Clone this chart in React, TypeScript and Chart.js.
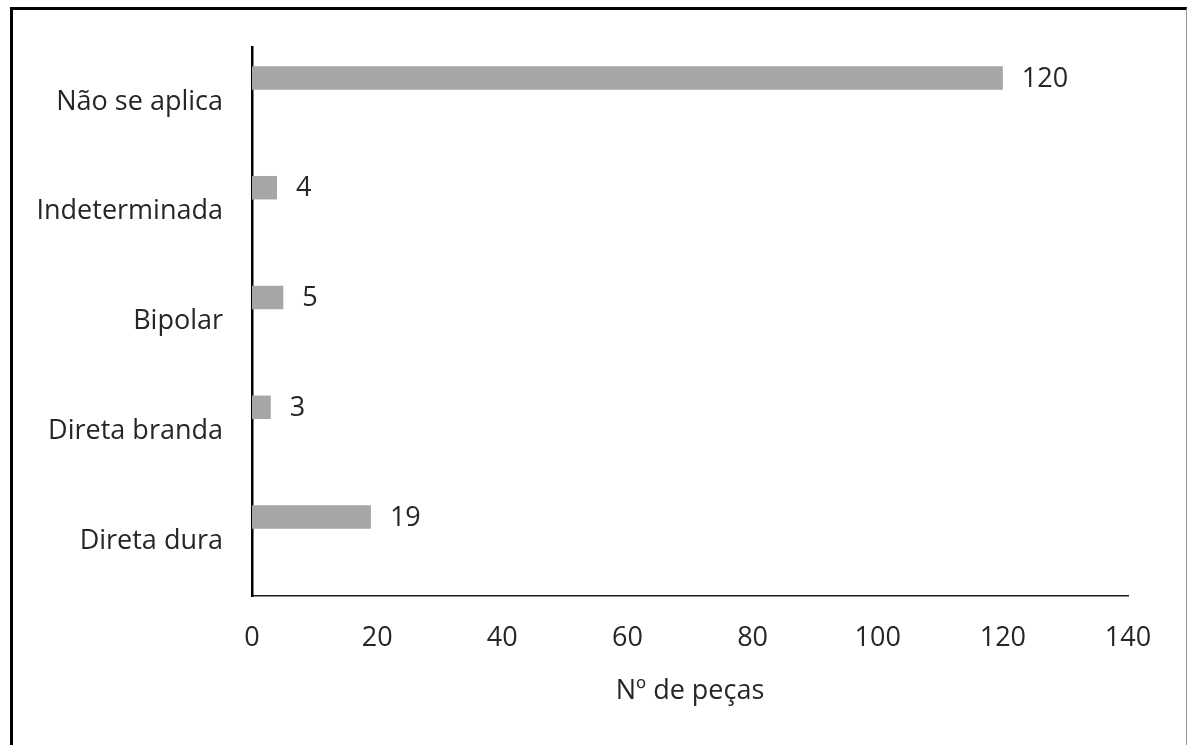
import React, { useEffect, useRef } from "react";
import { Chart, registerables } from "chart.js";

Chart.register(...registerables);

const categories: string[] = ["Não se aplica", "Indeterminada", "Bipolar", "Direta branda", "Direta dura"];
const pieceCounts: number[] = [120, 4, 5, 3, 19];
const emptySlot: (number | null)[] = [null, null, null, null, null];
const xTicks: number[] = [0, 20, 40, 60, 80, 100, 120, 140];
const xTitle = "Nº de peças";

const FONT = "'Open Sans', sans-serif";
const TEXT = "#262626";

const valueLabels = {
  id: "valueLabels",
  afterDatasetsDraw(chart: any) {
    const ctx = chart.ctx;
    const meta = chart.getDatasetMeta(0);
    ctx.save();
    ctx.font = `27px ${FONT}`;
    ctx.fillStyle = TEXT;
    ctx.textAlign = "left";
    ctx.textBaseline = "middle";
    meta.data.forEach((el: any, i: number) => {
      const v = pieceCounts[i];
      ctx.fillText(String(v), el.x + 19, el.y + 1);
    });
    ctx.restore();
  },
};

export default function App() {
  const ref = useRef<HTMLCanvasElement>(null);
  useEffect(() => {
    if (!ref.current) return;
    const chart = new Chart(ref.current, {
      type: "bar",
      data: {
        labels: categories,
        datasets: [
          { data: pieceCounts, backgroundColor: "#a6a6a6", borderWidth: 0 },
          { data: emptySlot as any, backgroundColor: "#a6a6a6", borderWidth: 0 },
        ],
      },
      options: {
        indexAxis: "y",
        animation: false,
        responsive: false,
        maintainAspectRatio: false,
        categoryPercentage: 0.874,
        barPercentage: 0.49,
        layout: { padding: { left: 0, top: 47, right: 60, bottom: 0 } },
        plugins: { legend: { display: false }, tooltip: { enabled: false } },
        scales: {
          x: {
            type: "linear",
            min: 0,
            max: 140,
            afterBuildTicks(scale: any) {
              scale.ticks = xTicks.map((v) => ({ value: v }));
            },
            afterFit(scale: any) {
              scale.height = 149;
            },
            grid: { display: false, drawTicks: false },
            border: { display: true, color: "#1a1a1a", width: 1.5 },
            ticks: { color: TEXT, font: { family: FONT, size: 27 }, padding: 26, maxRotation: 0 },
            title: {
              display: true,
              text: xTitle,
              color: TEXT,
              font: { family: FONT, size: 27 },
              padding: { top: 0, bottom: 37 },
            },
          },
          y: {
            afterFit(scale: any) {
              scale.width = 252;
            },
            grid: { display: false, drawTicks: false },
            border: { display: true, color: "#000", width: 2.5 },
            ticks: { color: TEXT, font: { family: FONT, size: 27 }, padding: 29 },
          },
        },
      },
      plugins: [valueLabels],
    });
    return () => chart.destroy();
  }, []);

  return (
    <div style={{ position: "fixed", left: 0, top: 0, width: 1188, height: 745, overflow: "hidden", background: "#fff" }}>
      <canvas ref={ref} width={1188} height={745} style={{ position: "absolute", left: 0, top: 0 }} />
      <div
        style={{
          position: "absolute",
          left: 10,
          top: 7,
          width: 1173,
          height: 800,
          borderLeft: "3px solid #000",
          borderTop: "3px solid #000",
          borderRight: "1px solid #999",
          pointerEvents: "none",
        }}
      />
    </div>
  );
}
